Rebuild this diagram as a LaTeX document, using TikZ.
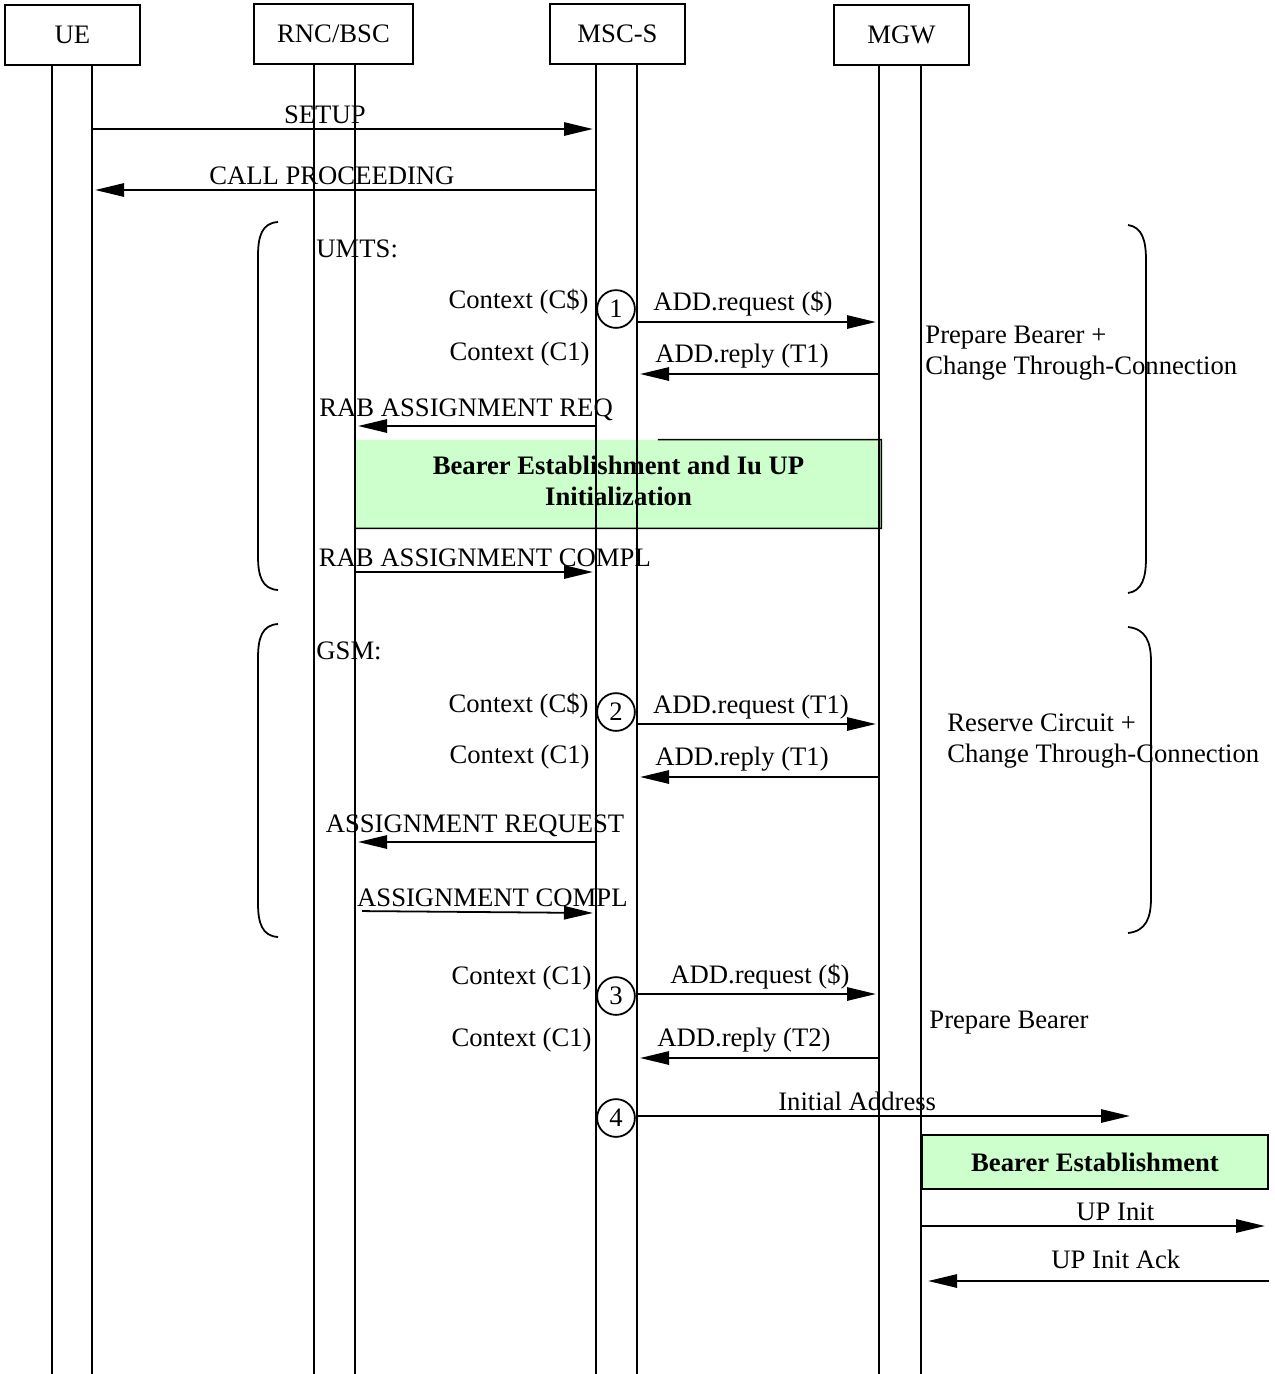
\documentclass[tikz,border=0pt]{standalone}
\usepackage{fontspec}
\setmainfont{Liberation Serif}
\usetikzlibrary{arrows.meta, calc}
\definecolor{beargreen}{HTML}{CCFFCC}

\begin{document}
\begin{tikzpicture}[
  x=0.45pt, y=-0.45pt,
  font=\fontsize{12}{14}\selectfont,
  entity/.style={rectangle, draw, line width=0.8pt, minimum width=60.75pt, minimum height=27pt, inner sep=0pt},
  life/.style={line width=1pt},
  msg/.style={-{Triangle[length=13pt, width=6pt]}, line width=0.8pt, shorten >=1.4pt},
  lbl/.style={above, inner sep=2pt},
  ctx/.style={anchor=east, inner sep=0pt},
  note/.style={anchor=west, align=left, inner sep=0pt},
  numcirc/.style={circle, draw, line width=0.8pt, minimum size=17pt, inner sep=0pt},
  bearer/.style={fill=beargreen, font=\fontsize{12}{14}\selectfont\bfseries, align=center, inner sep=0pt},
  brace/.style={line width=0.8pt},
]
\useasboundingbox (0,0) rectangle (1275,1374);

% green procedure boxes (below the lifelines)
\node[bearer, minimum width=236.25pt, minimum height=39.6pt] (be1) at (618.5,484) {\raisebox{1.3pt}{\begin{tabular}{@{}c@{}}Bearer Establishment and Iu UP\\Initialization\end{tabular}}};
\draw[line width=0.7pt] ($(be1.north west)!0.575!(be1.north east)$) -- (be1.north east) -- (be1.south east) -- (be1.south west);
\node[bearer, draw, line width=0.7pt, minimum width=155.7pt, minimum height=24.3pt] (be2) at (1095,1162) {Bearer Establishment};

% entities and lifelines
\node[entity] (ue)  at (72.5,35)  {UE};
\node[entity, minimum width=71.5pt] (rnc) at (333.5,34) {RNC/BSC};
\node[entity] (msc) at (617.5,34) {MSC-S};
\node[entity] (mgw) at (901.5,35) {MGW};
\foreach \n/\x in {ue-l/52, ue-r/92, rnc-l/314, rnc-r/355, msc-l/596, msc-r/637, mgw-l/879, mgw-r/921} {
  \coordinate (\n) at (\x,64);
  \draw[life] (\n) -- (\x,1380);
}

% call setup
\draw[msg] (ue-r |- 0,129) -- (msc-l |- 0,129) node[lbl, pos=0.462] (m-setup) {SETUP};
\draw[msg] (msc-l |- 0,190) -- (ue-r |- 0,190) node[lbl, pos=0.524] (m-proc) {CALL PROCEEDING};

% UMTS branch
\draw[brace] (278,222) .. controls (262,223) and (258,236) .. (258,256) -- (258,556) .. controls (258,576) and (262,589) .. (278,590);
\draw[brace] (1128,225) .. controls (1142,227) and (1146,240) .. (1146,260) -- (1146,558) .. controls (1146,578) and (1142,591) .. (1128,593);
\node[anchor=west, inner sep=0pt] (umts) at (316,249) {UMTS:};
\node[numcirc] (c1) at (616,309) {1};
\node[ctx] (ctx1) at (589,302) {Context (C\$)};
\node[ctx] (ctx2) at (590,354) {Context (C1)};
\draw[msg] (msc-r |- 0,322) -- (mgw-l |- 0,322) node[lbl, pos=0.438] (m-add1) {ADD.request (\$)};
\draw[msg] (mgw-l |- 0,374) -- (msc-r |- 0,374) node[lbl, pos=0.566] (m-rep1) {ADD.reply (T1)};
\node[note] (n-prep1) at (925,353) {Prepare Bearer +\\Change Through-Connection};
\draw[msg] (msc-l |- 0,426) -- (rnc-r |- 0,426) node[lbl, pos=0.539] (m-rabreq) {RAB ASSIGNMENT REQ};
\draw[msg] (rnc-r |- 0,572) -- (msc-l |- 0,572) node[lbl, pos=0.539] (m-rabcmp) {RAB ASSIGNMENT COMPL};

% GSM branch
\draw[brace] (278,624) .. controls (262,625) and (258,638) .. (258,658) -- (258,903) .. controls (258,923) and (262,936) .. (278,937);
\draw[brace] (1128,627) .. controls (1146,629) and (1151,642) .. (1151,662) -- (1151,898) .. controls (1151,918) and (1146,931) .. (1128,933);
\node[anchor=west, inner sep=0pt] (gsm) at (316,651) {GSM:};
\node[numcirc] (c2) at (616,712) {2};
\node[ctx] (ctx3) at (589,706) {Context (C\$)};
\node[ctx] (ctx4) at (590,757) {Context (C1)};
\draw[msg] (msc-r |- 0,724) -- (mgw-l |- 0,724) node[lbl, pos=0.471] (m-add2) {ADD.request (T1)};
\draw[msg] (mgw-l |- 0,777) -- (msc-r |- 0,777) node[lbl, pos=0.566] (m-rep2) {ADD.reply (T1)};
\node[note] (n-res) at (947,741) {Reserve Circuit +\\Change Through-Connection};
\draw[msg] (msc-l |- 0,842) -- (rnc-r |- 0,842) node[lbl, pos=0.502] (m-asreq) {ASSIGNMENT REQUEST};
\draw[msg, shorten <=3.2pt] (rnc-r |- 0,911) -- (msc-l |- 0,913) node[lbl, pos=0.57] (m-ascmp) {ASSIGNMENT COMPL};

% outgoing side
\node[numcirc] (c3) at (616,996) {3};
\node[ctx] (ctx5) at (592,978) {Context (C1)};
\node[ctx] (ctx6) at (592,1040) {Context (C1)};
\draw[msg] (msc-r |- 0,994) -- (mgw-l |- 0,994) node[lbl, pos=0.508] (m-add3) {ADD.request (\$)};
\draw[msg] (mgw-l |- 0,1058) -- (msc-r |- 0,1058) node[lbl, pos=0.558] (m-rep3) {ADD.reply (T2)};
\node[note] (n-prep2) at (929,1023) {Prepare Bearer};
\node[numcirc] (c4) at (616,1118) {4};
\coordinate (iam-end) at (1133,1116);
\draw[msg] (msc-r |- 0,1116) -- (iam-end) node[lbl, pos=0.444] (m-iam) {Initial Address};
\coordinate (up-end) at (1268,1226);
\coordinate (ack-start) at (1269,1281);
\draw[msg] (mgw-r |- 0,1226) -- (up-end) node[lbl, pos=0.56] (m-up) {UP Init};
\draw[msg, shorten >=3.2pt] (ack-start) -- (mgw-r |- 0,1281) node[lbl, pos=0.44, inner sep=5pt] (m-ack) {UP Init Ack};
\end{tikzpicture}
\end{document}
